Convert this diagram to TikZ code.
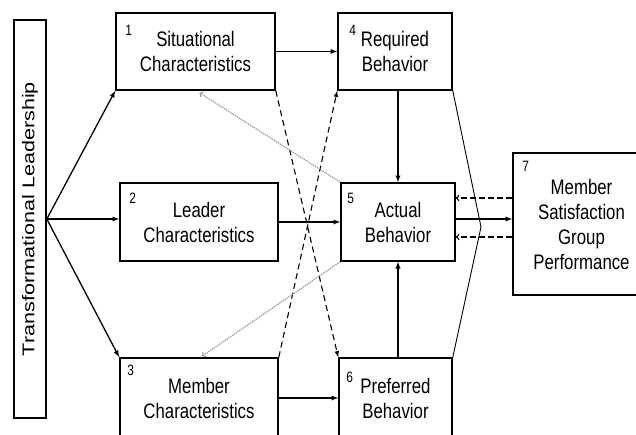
\documentclass[tikz,border=0pt]{standalone}
\usepackage{fontspec}
\setmainfont{Liberation Sans}
\newfontfamily\boxfont[FakeStretch=0.8]{Liberation Sans}
\newfontfamily\sidefont[FakeStretch=1.27]{Liberation Sans}
\usetikzlibrary{arrows,positioning}

\begin{document}
\begin{tikzpicture}[
			x=1pt, y=-1pt,
			box/.style={draw, line width=1.6pt, align=center, inner sep=0pt,
				font=\boxfont\fontsize{21}{25}\selectfont, text=black},
			num/.style={font=\boxfont\fontsize{15}{15}\selectfont, inner sep=0pt, text=black},
			flow/.style={-latex, line width=1.3pt},
			cross/.style={-latex, dash pattern=on 6pt off 4pt, line width=1.1pt},
			fback/.style={->, dash pattern=on 6pt off 3pt, line width=1.3pt},
			back/.style={->, densely dotted, gray!85, line width=1.2pt}
			]

				\useasboundingbox (0,0) rectangle (636,434);
				\clip (0,0) rectangle (636,434);

				\node[box, minimum width=32pt, minimum height=398pt,
					font=\sidefont\fontsize{17}{20}\selectfont] (lead) at (30,219)
					{\rotatebox{90}{Transformational Leadership}};

				\node[box, minimum width=159pt, minimum height=77pt,
					label={[num, anchor=north west, xshift=10pt, yshift=-13pt]north west:1}]
					(sit) at (195.5,51.5) {Situational\\Characteristics};
				\node[box, minimum width=158pt, minimum height=78pt,
					label={[num, anchor=north west, xshift=10pt, yshift=-11pt]north west:2}]
					(ldr) at (199,222) {Leader\\Characteristics};
				\node[box, minimum width=158pt, minimum height=80pt,
					label={[num, anchor=north west, xshift=8pt, yshift=-8pt]north west:3}]
					(mem) at (199,398) {Member\\Characteristics};
				\node[box, minimum width=114pt, minimum height=77pt,
					label={[num, anchor=north west, xshift=12pt, yshift=-13pt]north west:4}]
					(req) at (395,51.5) {Required\\Behavior};
				\node[box, minimum width=114pt, minimum height=78pt,
					label={[num, anchor=north west, xshift=7pt, yshift=-11pt]north west:5}]
					(act) at (398,222) {Actual\\Behavior};
				\node[box, minimum width=113pt, minimum height=80pt,
					label={[num, anchor=north west, xshift=8pt, yshift=-15pt]north west:6}]
					(pref) at (395.5,398) {Preferred\\Behavior};
				\node[box, minimum width=137pt, minimum height=142pt,
					label={[num, anchor=north west, xshift=10pt, yshift=-9pt]north west:7}]
					(out) at (581.5,224) {Member\\Satisfaction\\Group\\Performance};

				\draw[flow] (lead.east) -- (sit.south west);
				\draw[flow] (lead.east) -- (lead.east -| ldr.west);
				\draw[flow] (lead.east) -- (mem.north west);

				\draw[flow] (sit.east) -- (req.west);
				\draw[flow] (ldr.east) -- (act.west);
				\draw[flow] (mem.east) -- (pref.west);

				\draw[flow] (act.north |- req.south) -- (act.north);
				\draw[flow] (act.south |- pref.north) -- (act.south);

				\draw[cross] (sit.south east) -- (pref.north west);
				\draw[cross] (mem.north east) -- (req.south west);

				\draw[back] (act.north west) -- ([xshift=4pt,yshift=-2pt]sit.south);
				\draw[back] (act.south west) -- ([xshift=3pt,yshift=1pt]mem.north);

				\coordinate (apex) at (481,227);
				\draw[line width=0.9pt] (req.south east) -- (apex) -- (pref.north east);

				\draw[flow] ([yshift=3pt]act.east) -- ([yshift=3pt]act.east -| out.west);
				\draw[fback] ([yshift=24pt]act.east -| out.west) -- ([yshift=24pt]act.east);
				\draw[fback] ([yshift=-15pt]act.east -| out.west) -- ([yshift=-15pt]act.east);

			\end{tikzpicture}
\end{document}
